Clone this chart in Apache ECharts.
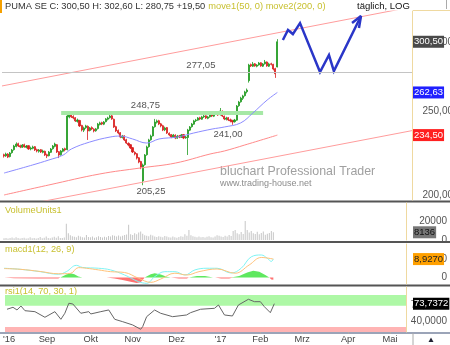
<!DOCTYPE html>
<html><head><meta charset="utf-8">
<script src="https://cdn.jsdelivr.net/npm/echarts@6/dist/echarts.min.js"></script>
<style>html,body{margin:0;padding:0;background:#fff}#c{width:450px;height:345px}</style>
</head><body><div id="c"></div>
<script>
// ---------- data ----------
const X_MIN = 2, X_MAX = 203;          // trading-day index range of the x axis
const candleStart = 3;                 // trading-day index of first candle
const titleText = 'PUMA SE C: 300,50 H: 302,60 L: 280,75 +19,50';
const indText = 'move1(50, 0) move2(200, 0)';
const modeText = 't\u00e4glich, LOG';
const monthTickIdx = [4, 23, 45, 66, 88, 110, 130, 151, 174, 195];
const monthTickLabel = ["'16", "Sep", "Okt", "Nov", "Dez", "'17", "Feb", "Mrz", "Apr", "Mai"];
const mainTicks = [200, 250, 300];
const volTicks = [0, 20000];
const macdTicks = [0, 9];
const rsiTicks = [40, 70];

// [open, close, low, high]
const ohlc = [
[222.6,221.8,220.9,223.2],[221.9,223.0,221.3,223.8],[223.0,221.2,220.6,223.5],[221.5,223.6,221.0,224.2],
[223.8,225.4,223.2,226.0],[225.6,227.8,225.0,228.5],[227.5,229.0,227.0,230.0],[229.2,227.8,227.2,229.8],
[228.0,227.2,226.5,228.6],[227.0,228.4,226.6,229.0],[228.6,227.2,226.8,229.2],[227.0,227.8,226.4,228.4],
[228.0,226.0,225.5,228.3],[226.0,226.6,225.2,227.4],[226.4,227.2,225.8,228.0],[227.4,225.4,224.8,227.8],
[225.6,224.8,224.0,226.2],[224.6,225.4,223.8,226.0],[225.6,224.2,223.6,226.0],[224.0,224.8,223.4,225.6],
[224.6,222.4,221.8,225.0],[222.6,221.8,220.6,223.2],[222.0,224.2,221.6,224.8],[224.0,226.0,223.6,226.6],
[226.2,227.8,225.6,228.4],[227.6,229.0,227.0,229.8],[228.6,224.2,223.6,229.0],[224.4,222.4,220.6,224.8],
[222.6,224.8,222.0,225.4],[224.6,226.0,224.0,226.6],[226.2,225.4,224.6,226.8],
[225.6,246.7,225.2,247.9],[246.0,247.4,245.2,248.75],[247.6,246.1,245.4,248.75],[246.4,245.4,244.6,247.2],
[245.6,243.5,242.8,246.0],[243.2,244.1,242.4,245.0],[243.8,240.3,239.6,244.2],[240.6,237.7,236.8,241.0],
[237.6,239.0,236.4,239.8],[239.2,240.3,238.4,241.0],[240.0,237.1,231.5,240.6],[237.4,239.0,236.8,239.6],
[239.2,238.4,237.6,240.0],[238.2,237.1,236.2,238.8],[237.2,238.4,236.6,239.0],[238.6,241.5,238.0,242.2],
[241.2,242.2,240.6,243.0],[242.4,241.5,240.8,243.0],[241.4,242.8,240.8,243.4],[243.0,244.8,242.6,245.4],
[244.6,245.4,243.8,246.2],[245.6,246.7,245.0,248.0],[246.8,244.8,244.2,247.4],
[244.6,239.6,239.0,245.0],[239.8,237.1,236.4,240.4],[237.4,235.8,235.0,238.0],[236.0,233.3,232.6,236.4],
[233.0,233.9,232.4,234.6],[234.0,231.5,230.8,234.4],[231.6,229.6,229.0,232.2],[229.4,228.4,227.6,230.0],
[228.6,226.6,226.0,229.0],[226.8,224.2,223.6,227.2],[224.0,223.0,222.2,224.6],[223.2,220.6,219.8,223.6],
[220.8,218.3,217.6,221.2],[218.6,215.4,214.2,219.0],
[207.6,216.6,205.25,217.4],[216.8,222.4,216.2,223.0],[222.6,227.2,222.0,228.0],[227.4,231.5,226.8,232.2],
[231.6,233.9,231.0,234.8],[234.0,239.6,233.6,240.2],[239.8,242.8,239.2,244.8],[242.6,243.5,241.8,244.4],
[243.6,241.5,240.8,244.2],[241.6,240.3,239.4,242.2],[240.4,237.7,237.0,241.0],[237.8,239.0,237.0,239.8],
[239.2,235.8,235.2,239.6],[235.6,234.6,233.8,236.2],[234.8,233.3,232.6,235.2],[233.2,234.6,232.8,235.2],
[234.4,232.7,232.0,235.0],[232.6,233.9,232.2,234.6],[234.0,233.3,232.6,234.6],[233.2,234.6,232.8,235.2],
[234.8,232.7,232.0,235.2],[232.8,233.3,232.2,234.0],
[233.0,237.7,222.4,238.4],[237.6,239.6,237.0,240.2],[239.8,241.5,239.2,242.2],[241.4,243.5,241.0,244.2],
[243.6,244.1,242.8,244.8],[244.0,245.4,243.6,246.0],[245.6,244.8,244.0,246.2],[244.6,246.1,244.2,246.8],
[246.2,246.7,245.4,247.4],[246.8,245.4,244.8,247.2],[245.2,246.1,244.6,246.8],[246.2,247.4,245.6,248.0],
[247.6,246.7,246.0,248.2],[246.6,248.0,246.0,248.6],[248.2,248.7,247.4,249.6],[248.8,247.4,246.8,249.4],
[247.6,250.0,247.0,252.0],
[249.8,246.7,246.0,250.4],[246.6,244.8,244.0,247.0],[244.6,245.4,243.8,246.2],[245.6,244.1,243.4,246.0],
[244.2,243.5,242.6,245.0],[243.6,242.8,241.0,244.2],[243.0,244.1,242.4,244.8],
[244.0,253.3,243.6,254.0],[253.6,256.0,252.8,256.8],[256.2,258.7,255.6,259.6],[258.6,260.2,257.4,261.0],
[260.4,263.0,259.8,263.8],[263.2,264.3,262.0,265.4],
[271.0,282.5,269.6,283.4],[282.8,281.8,281.0,283.6],[281.6,283.3,281.0,284.8],[283.4,281.8,281.2,284.0],
[281.6,282.5,280.8,283.2],[282.6,284.0,282.0,284.8],[284.2,281.8,281.2,284.6],[281.6,283.3,281.0,284.0],
[283.4,284.8,282.8,286.3],[284.8,281.8,281.2,285.2],[281.6,283.3,281.0,284.2],[283.4,283.0,282.2,284.2],
[283.0,279.5,278.5,283.4],[279.8,276.0,273.0,280.4],[281.0,300.5,280.75,302.6]
];
const volume = [
1800,2200,1600,2000,2600,1800,3000,2200,
1700,2000,2400,1500,1900,2800,1800,2200,1600,2000,
3200,1900,2500,3800,2200,1800,2700,3300,2400,4000,
2200,2000,2600,
17000,
7000,5000,4000,3400,3000,4600,
3800,3000,2600,5400,3200,2800,3600,2400,3000,4000,
3200,2600,3400,3000,4200,3600,5000,4400,3800,4800,
3600,4600,5200,5800,16000,6000,5400,7000,6000,8000,
9000,6600,
5000,4400,4000,5600,4800,3600,3200,4000,
3400,2800,4200,3600,3000,2600,3800,3000,2400,3200,4000,3400,
6000,4400,10500,5000,4000,3400,3000,3600,
2800,3200,2600,3400,4000,3000,2600,3600,5000,4400,
3800,3200,4600,3600,5200,4200,
9500,10500,7000,6000,8400,6400,
20000,
10500,8000,9500,7000,6400,8800,6000,7400,9000,5600,6600,
7400,9600,8136
];
const ma50Idx = [3,17,25,32,36,45,55,60,66,73,79,88,96,105,111,119,125,132,137];
const ma50Val = [212.0,216.6,219.5,222.4,226.0,230.2,233.3,233.9,232.1,229.6,232.1,233.3,235.8,238.3,239.6,242.2,248.7,257.4,262.63];
const ma200Idx = [3,25,50,70,87,104,111,121,137];
const ma200Val = [200.0,205.4,211.5,214.9,217.7,223.0,224.8,228.4,234.5];
const chanUpIdx = [2,203], chanUpVal = [267.2,329.7];
const chanLoIdx = [2,203], chanLoVal = [192.6,237.3];
const bandIdx = [31,130], bandVal = [248.75,248.75];
const annoIdx = [99.5,72.3,112.8,75.0];
const annoVal = [277.05,248.75,241.00,205.25];
const refLevel = 277.05;
const arrowIdx = [139.7,142.2,144.6,148.1,157.9,162.3,164.7,178.0];
const arrowVal = [301.9,310.0,306.7,315.8,277.3,290.1,278.0,321.8];
const arrowHeadIdx = [173.6,178.0,177.0];
const arrowHeadVal = [315.8,321.8,311.7];
const macdIdx = [3,11,21,30,34,39,42,50,56,63,70,74,78,83,88,93,98,104,109,116,121,126,131,134,136,137];
const macdVal = [4.5,4.0,2.85,1.6,2.85,5.9,4.9,4.5,3.7,1.25,-2.0,-2.75,0.45,2.85,2.85,1.25,3.7,4.5,4.5,2.2,4.5,10.0,10.9,9.3,7.8,9.0];
const signalIdx = [3,11,21,30,36,40,44,50,56,63,70,76,81,88,94,100,109,118,125,131,137];
const signalVal = [4.35,4.0,2.95,1.85,2.0,4.8,4.5,3.7,2.85,2.45,-0.35,-2.3,-0.7,2.1,1.25,2.85,4.15,2.1,6.1,9.7,8.927];
const histUpIdx = [31,34,36,38,40,42,73,76,78,81,84,86,95,99,103,107,116,120,124,127,130,133,135];
const histUpVal = [0,1.5,2.1,1.6,0.5,0,0,1.6,2.1,1.5,0.4,0,0,0.7,0.75,0,0,0.8,2.5,3.3,2.8,1.2,0];
const histDnIdx = [3,8,20,30,31,54,58,62,66,69,71,73,86,90,94,95,108,111,115,117,135,136,137];
const histDnVal = [0,-0.3,-0.4,-0.5,0,0,-0.5,-1.2,-2.0,-2.6,-2.3,0,0,-0.5,-0.4,0,0,-0.4,-0.4,0,0,-0.9,-1.1];
const rsiIdx = [3,6,8,10,12,17,22,27,28,30,32,34,36,40,44,45,50,54,57,61,66,70,71,73,77,80,86,93,95,100,107,109,112,116,119,124,127,130,132,135,137];
const rsiVal = [63.3,67.0,62.0,69.4,60.6,58.8,48.3,58.8,55.8,44.5,55.8,74.5,73.2,55.8,58.8,54.5,58.8,62.0,44.5,40.0,33.9,25.8,30.7,49.4,61.9,55.8,49.4,52.6,56.9,63.3,65.1,71.3,52.6,50.7,71.3,82.0,77.5,77.5,68.1,56.9,73.7372];
const rsiBandHigh = [70, 90], rsiBandLow = [20, 30];

// ---------- build ----------
const FONT = '"Liberation Sans", Arial, sans-serif';
const fmt = (v, d) => v.toFixed(d).replace('.', ',');
const zip = (a, b) => a.map((x, k) => [x, b[k]]);
const lastOf = a => a[a.length - 1];
const cats = []; for (let i = X_MIN; i <= X_MAX; i++) cats.push(String(i));
const candleRows = ohlc.map((r, k) => [k + candleStart - X_MIN, r[0], r[1], r[2], r[3]]);
const volRows = volume.map((v, k) => [k + candleStart - X_MIN, v]);
const last = lastOf(ohlc);

const GL = 2, GR = 38;
const yBase = (extra) => Object.assign({
  position: 'right', splitLine: { show: false }, axisTick: { show: false },
  axisLine: { show: true, lineStyle: { color: '#efd9a0', width: 1 } },
  axisLabel: { fontSize: 10, color: '#555', align: 'right', margin: 41, fontFamily: FONT }
}, extra);
const lbl = (vals, f) => ({ customValues: vals, fontSize: 10, color: '#555', align: 'right', margin: 41, fontFamily: FONT, formatter: f });

const chart = echarts.init(document.getElementById('c'));
const option = {
  animation: false,
  backgroundColor: '#fff',
  textStyle: { fontFamily: FONT },
  grid: [
    { left: GL, right: GR, top: 11, height: 189 },
    { left: GL, right: GR, top: 203, height: 37 },
    { left: GL, right: GR, top: 244, height: 40 },
    { left: GL, right: GR, top: 287, height: 45 }
  ],
  xAxis: [
    { type: 'category', gridIndex: 0, data: cats, boundaryGap: false, show: false },
    { type: 'value', gridIndex: 0, min: X_MIN, max: X_MAX, show: false },
    { type: 'category', gridIndex: 1, data: cats, boundaryGap: false, show: false },
    { type: 'value', gridIndex: 2, min: X_MIN, max: X_MAX, show: false },
    { type: 'value', gridIndex: 3, min: X_MIN, max: X_MAX, splitLine: { show: false },
      axisLine: { show: false },
      axisTick: { show: true, customValues: monthTickIdx, length: 2, lineStyle: { color: '#aaa' } },
      axisLabel: { customValues: monthTickIdx, margin: 3, fontSize: 9.3, color: '#444', fontFamily: FONT,
        formatter: v => { const k = monthTickIdx.indexOf(v); return k >= 0 ? monthTickLabel[k] : ''; } } }
  ],
  yAxis: [
    yBase({ type: 'log', logBase: 10, gridIndex: 0, min: 197.35, max: 326.1, axisLabel: { show: false } }),
    yBase({ type: 'value', gridIndex: 1, min: 0, max: 39000, axisLabel: lbl(volTicks, v => String(v)) }),
    yBase({ type: 'value', gridIndex: 2, min: -3.1, max: 16.2, axisLabel: lbl(macdTicks, v => v === 0 ? '0' : fmt(v, 4)) }),
    yBase({ type: 'value', gridIndex: 3, min: 20.7, max: 105, axisLabel: lbl(rsiTicks, v => fmt(v, 4)) })
  ],
  series: [
    { type: 'line', xAxisIndex: 1, yAxisIndex: 0, data: zip(chanUpIdx, chanUpVal), symbol: 'none',
      lineStyle: { color: '#ff9c9c', width: 1 }, silent: true },
    { type: 'line', xAxisIndex: 1, yAxisIndex: 0, data: zip(chanLoIdx, chanLoVal), symbol: 'none',
      lineStyle: { color: '#ff9c9c', width: 1 }, silent: true },
    { type: 'line', xAxisIndex: 1, yAxisIndex: 0, data: zip(bandIdx, bandVal), symbol: 'none',
      lineStyle: { color: '#a6e8a6', width: 4 }, silent: true,
      markPoint: { symbol: 'circle', symbolSize: 1, itemStyle: { color: 'rgba(0,0,0,0)' }, silent: true,
        data: annoIdx.map((x, k) => ({ coord: [x, annoVal[k]],
          label: { show: true, formatter: fmt(annoVal[k], 2), position: k < 2 ? 'top' : 'bottom',
                   distance: [1, 2, 4, 1][k], color: '#555', fontSize: 9.5, fontFamily: FONT } })) } },
    { type: 'line', xAxisIndex: 1, yAxisIndex: 0, data: zip(ma200Idx, ma200Val), symbol: 'none', smooth: 0.4,
      lineStyle: { color: '#ff8a8a', width: 1 }, silent: true },
    { type: 'line', xAxisIndex: 1, yAxisIndex: 0, data: zip(ma50Idx, ma50Val), symbol: 'none', smooth: 0.4,
      lineStyle: { color: '#8c8cff', width: 1 }, silent: true },
    { type: 'candlestick', xAxisIndex: 0, yAxisIndex: 0, data: candleRows, encode: { x: 0, y: [1, 2, 3, 4] },
      barWidth: 1.6,
      itemStyle: { color: '#1f9a1f', color0: '#d92020', borderColor: '#1f9a1f', borderColor0: '#d92020', borderWidth: 0.8 },
      markLine: { symbol: 'none', silent: true, data: [
        { yAxis: refLevel, lineStyle: { color: '#c4c4c4', width: 1, type: 'solid' }, label: { show: false } }
      ] } },
    { type: 'line', xAxisIndex: 1, yAxisIndex: 0, data: zip(arrowIdx, arrowVal), symbol: 'none',
      lineStyle: { color: '#2a36c8', width: 2.5, join: 'miter' }, silent: true },
    { type: 'line', xAxisIndex: 1, yAxisIndex: 0, data: zip(arrowHeadIdx, arrowHeadVal), symbol: 'none',
      lineStyle: { color: '#2a36c8', width: 2.5 }, silent: true },
    { type: 'bar', xAxisIndex: 2, yAxisIndex: 1, data: volRows, barWidth: 1,
      itemStyle: { color: '#c6c6c6' }, silent: true },
    { type: 'line', xAxisIndex: 3, yAxisIndex: 2, data: zip(histUpIdx, histUpVal), symbol: 'none',
      lineStyle: { width: 0 }, areaStyle: { color: '#5fe85f', opacity: 1 }, silent: true },
    { type: 'line', xAxisIndex: 3, yAxisIndex: 2, data: zip(histDnIdx, histDnVal), symbol: 'none',
      lineStyle: { width: 0 }, areaStyle: { color: '#ff7373', opacity: 1 }, silent: true },
    { type: 'line', xAxisIndex: 3, yAxisIndex: 2, data: zip(macdIdx, macdVal), symbol: 'none', smooth: 0.4,
      lineStyle: { color: '#7ff3f3', width: 1 }, silent: true },
    { type: 'line', xAxisIndex: 3, yAxisIndex: 2, data: zip(signalIdx, signalVal), symbol: 'none', smooth: 0.4,
      lineStyle: { color: '#ffc27a', width: 1 }, silent: true },
    { type: 'line', xAxisIndex: 4, yAxisIndex: 3, data: zip(rsiIdx, rsiVal), symbol: 'none',
      lineStyle: { color: '#666', width: 1 }, silent: true,
      markArea: { silent: true, data: [
        [{ yAxis: rsiBandHigh[0], itemStyle: { color: '#aef8a6' } }, { yAxis: rsiBandHigh[1] }],
        [{ yAxis: rsiBandLow[0], itemStyle: { color: '#ffb4b4' } }, { yAxis: rsiBandLow[1] }]
      ] } }
  ]
};
chart.setOption(option);

// text width measurement for the header line
const mctx = document.createElement('canvas').getContext('2d');
const measure = (s, size) => { mctx.font = size + 'px ' + FONT; return mctx.measureText(s).width; };

const txt = (x, y, s, size, fill, extra) => ({ type: 'text', x, y, silent: true,
  style: Object.assign({ text: s, font: size + 'px ' + FONT, fill, verticalAlign: 'middle', align: 'left' }, extra || {}) });
const line = (x1, y1, x2, y2, stroke, w) => ({ type: 'line', silent: true,
  shape: { x1, y1, x2, y2 }, style: { stroke, lineWidth: w } });

const TITLE_SIZE = 9.3;
const graphics = [
  { type: 'rect', silent: true, shape: { x: 0, y: 0, width: 2, height: 13 }, style: { fill: '#f5a000' } },
  txt(5, 6.5, titleText, TITLE_SIZE, '#333'),
  txt(5 + measure(titleText, TITLE_SIZE) + 3, 6.5, indText, TITLE_SIZE, '#c8c030'),
  txt(357, 6, modeText, 9.5, '#111'),
  txt(220, 172, 'bluchart Professional Trader', 12.4, '#a0a0a0'),
  txt(220, 183.5, 'www.trading-house.net', 9, '#8c8c8c'),
  txt(5, 210.5, 'VolumeUnits1', 9.2, '#c8c030'),
  txt(5, 249, 'macd1(12, 26, 9)', 9.2, '#c8c030'),
  txt(5, 291.5, 'rsi1(14, 70, 30, 1)', 9.2, '#c8c030'),
  line(0, 201.5, 450, 201.5, '#555', 2),
  line(0, 242, 450, 242, '#555', 2),
  line(0, 285.5, 450, 285.5, '#555', 2),
  line(0, 333, 450, 333, '#7a86a0', 1.5),
  line(413, 333, 413, 345, '#aaa', 1),
  line(413, 10.5, 450, 10.5, '#efd9a0', 1),
  line(446.5, 0, 446.5, 9, '#aaa', 1),
  { type: 'polygon', silent: true, shape: { points: [[428.5, 342], [431, 337.5], [433.5, 342]] }, style: { fill: '#223' } }
];
mainTicks.forEach(v => {
  const y = chart.convertToPixel({ yAxisIndex: 0 }, v);
  graphics.push(txt(453, y, fmt(v, 2), 10, '#555', { align: 'right' }));
});
// last-value boxes on the right axis
const boxes = [
  [0, last[1], fmt(last[1], 2), '#4a4a4a', '#fff'],
  [0, lastOf(ma50Val), fmt(lastOf(ma50Val), 2), '#2020ff', '#fff'],
  [0, lastOf(ma200Val), fmt(lastOf(ma200Val), 2), '#ff2020', '#fff'],
  [1, lastOf(volume), String(lastOf(volume)), '#777', '#111'],
  [2, lastOf(signalVal), fmt(lastOf(signalVal), 4), '#ffa000', '#222'],
  [3, lastOf(rsiVal), fmt(lastOf(rsiVal), 4), '#000', '#fff']
];
boxes.forEach(([ax, v, s, bg, fg]) => {
  const y = chart.convertToPixel({ yAxisIndex: ax }, v);
  const el = txt(413, y, s, 9.5, fg, { backgroundColor: bg, padding: [1, 1, 1, 1] });
  el.z = 100;
  graphics.push(el);
});
chart.setOption({ graphic: graphics });
</script>
</body></html>
